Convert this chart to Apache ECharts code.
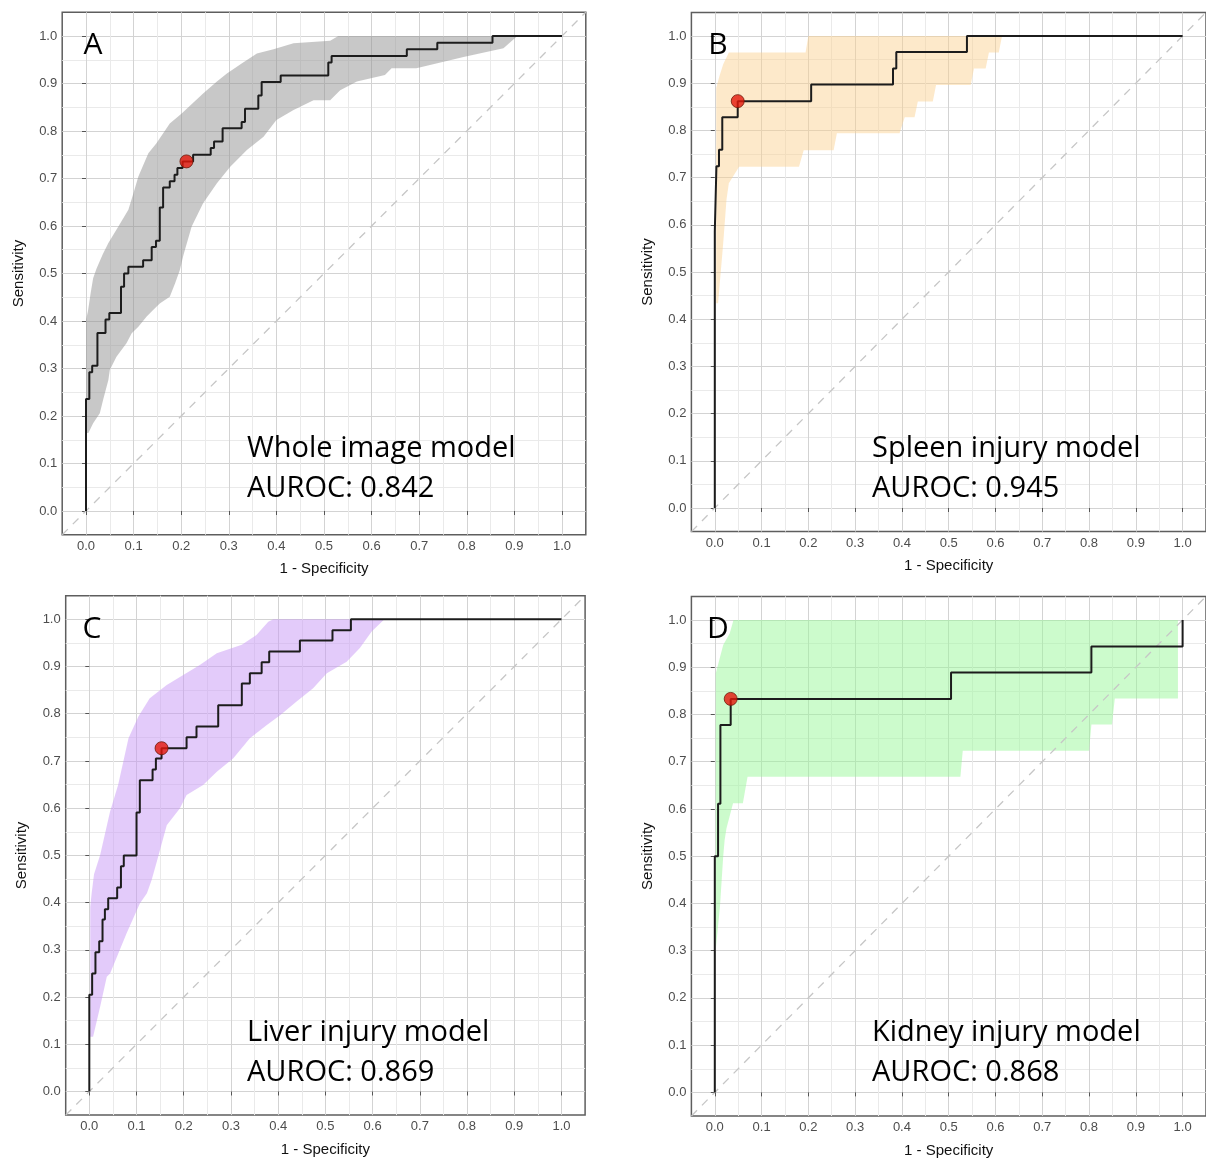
<!DOCTYPE html>
<html><head><meta charset="utf-8">
<script src="https://cdn.jsdelivr.net/npm/echarts@6.0.0/dist/echarts.min.js"></script>
<style>html,body{margin:0;padding:0;background:#fff}#c{width:1206px;height:1159px}</style>
</head><body><div id="c"></div>
<script>
// ---------- data ----------
const tickValues = [0, 0.1, 0.2, 0.3, 0.4, 0.5, 0.6, 0.7, 0.8, 0.9, 1.0];
const panelLetters = ['A', 'B', 'C', 'D'];
const modelNames = ['Whole image model', 'Spleen injury model', 'Liver injury model', 'Kidney injury model'];
const aurocValues = ['0.842', '0.945', '0.869', '0.868'];
const diagonal = [[-0.05, -0.05], [1.05, 1.05]];

// ROC staircase vertices [1 - specificity, sensitivity]
const rocA = [[0,0],[0,0.236],[0.007,0.292],[0.013,0.306],[0.024,0.375],[0.041,0.403],[0.049,0.417],[0.0735,0.472],[0.080,0.5],[0.089,0.514],[0.12,0.528],[0.138,0.556],[0.147,0.569],[0.155,0.639],[0.162,0.681],[0.176,0.694],[0.186,0.708],[0.192,0.722],[0.203,0.736],[0.225,0.75],[0.262,0.764],[0.269,0.778],[0.287,0.806],[0.327,0.819],[0.334,0.847],[0.362,0.875],[0.369,0.903],[0.409,0.917],[0.509,0.944],[0.516,0.958],[0.674,0.972],[0.738,0.986],[0.854,1.0],[1.0,1.0]];
const rocB = [[0,0],[0,0.586],[0.0035,0.724],[0.009,0.759],[0.016,0.828],[0.049,0.862],[0.206,0.897],[0.381,0.931],[0.388,0.966],[0.539,1.0],[1.0,1.0]];
const rocC = [[0,0],[0,0.205],[0.006,0.25],[0.013,0.295],[0.021,0.318],[0.028,0.364],[0.033,0.386],[0.04,0.409],[0.059,0.432],[0.067,0.477],[0.073,0.5],[0.1,0.591],[0.107,0.659],[0.134,0.682],[0.141,0.705],[0.153,0.727],[0.206,0.75],[0.227,0.773],[0.273,0.818],[0.323,0.864],[0.34,0.886],[0.365,0.909],[0.381,0.932],[0.446,0.955],[0.515,0.977],[0.554,1.0],[1.0,1.0]];
const rocD = [[0,0],[0,0.5],[0.007,0.611],[0.012,0.778],[0.034,0.833],[0.505,0.889],[0.805,0.944],[1.0,1.0]];

// optimal thresholds
const bestA = [0.211, 0.736];
const bestB = [0.049, 0.862];
const bestC = [0.153, 0.727];
const bestD = [0.034, 0.833];

// confidence band edges (upper/left edge and lower/right edge, from bottom to top)
const bandUpperA = [[0,0.164],[0,0.402],[0.004,0.42],[0.01,0.46],[0.015,0.49],[0.022,0.51],[0.035,0.54],[0.047,0.564],[0.068,0.599],[0.089,0.634],[0.1,0.67],[0.11,0.704],[0.131,0.753],[0.148,0.774],[0.176,0.816],[0.201,0.837],[0.246,0.879],[0.275,0.904],[0.296,0.921],[0.327,0.942],[0.359,0.963],[0.394,0.972],[0.436,0.985],[0.513,0.99],[0.53,1.0],[1.0,1.0]];
const bandLowerA = [[0,0.164],[0.005,0.164],[0.015,0.185],[0.029,0.206],[0.036,0.234],[0.047,0.276],[0.05,0.297],[0.064,0.325],[0.085,0.353],[0.096,0.374],[0.11,0.388],[0.127,0.409],[0.141,0.423],[0.155,0.437],[0.176,0.451],[0.187,0.479],[0.197,0.507],[0.205,0.54],[0.222,0.599],[0.246,0.648],[0.275,0.69],[0.303,0.725],[0.338,0.76],[0.373,0.788],[0.4,0.823],[0.436,0.844],[0.478,0.865],[0.513,0.865],[0.534,0.886],[0.569,0.904],[0.628,0.918],[0.642,0.932],[0.694,0.932],[0.793,0.956],[0.877,0.974],[0.905,0.999],[0.91,1.0],[1.0,1.0]];
const bandUpperB = [[0.003,0.434],[0.003,0.89],[0.01,0.915],[0.018,0.94],[0.03,0.965],[0.194,0.965],[0.2,1.0],[1.0,1.0]];
const bandLowerB = [[0.003,0.434],[0.007,0.434],[0.018,0.561],[0.025,0.653],[0.03,0.688],[0.052,0.723],[0.18,0.723],[0.19,0.758],[0.254,0.758],[0.261,0.794],[0.395,0.794],[0.406,0.828],[0.427,0.828],[0.434,0.861],[0.466,0.861],[0.473,0.896],[0.547,0.896],[0.554,0.931],[0.579,0.931],[0.586,0.965],[0.607,0.965],[0.614,1.0],[1.0,1.0]];
const bandUpperC = [[0.002,0.116],[0.002,0.39],[0.005,0.42],[0.01,0.46],[0.023,0.501],[0.044,0.593],[0.061,0.649],[0.083,0.748],[0.104,0.794],[0.128,0.833],[0.164,0.861],[0.199,0.882],[0.234,0.903],[0.27,0.928],[0.323,0.946],[0.354,0.967],[0.379,0.995],[0.39,1.0],[1.0,1.0]];
const bandLowerC = [[0.002,0.116],[0.008,0.116],[0.023,0.18],[0.037,0.243],[0.044,0.25],[0.079,0.335],[0.107,0.398],[0.122,0.42],[0.132,0.448],[0.143,0.487],[0.164,0.564],[0.192,0.6],[0.206,0.628],[0.241,0.649],[0.27,0.677],[0.305,0.706],[0.34,0.748],[0.376,0.776],[0.404,0.797],[0.439,0.826],[0.474,0.854],[0.503,0.886],[0.545,0.91],[0.573,0.939],[0.598,0.974],[0.625,1.0],[1.0,1.0]];
const bandUpperD = [[0.002,0.302],[0.002,0.887],[0.018,0.947],[0.032,0.972],[0.04,1.0],[0.99,1.0]];
const bandLowerD = [[0.002,0.302],[0.011,0.393],[0.018,0.5],[0.021,0.534],[0.025,0.559],[0.039,0.612],[0.06,0.612],[0.07,0.668],[0.525,0.668],[0.53,0.723],[0.8,0.723],[0.805,0.779],[0.849,0.779],[0.855,0.834],[0.99,0.834],[0.99,1.0]];

// ---------- layout / style ----------
const rocs = [rocA, rocB, rocC, rocD];
const bests = [bestA, bestB, bestC, bestD];
const bandsUpper = [bandUpperA, bandUpperB, bandUpperC, bandUpperD];
const bandsLower = [bandLowerA, bandLowerB, bandLowerC, bandLowerD];
const bandColors = ['rgba(145,145,145,0.5)', 'rgba(250,210,145,0.48)', 'rgba(200,152,245,0.5)', 'rgba(153,247,153,0.5)'];
const grids = [
  {left: 62.2, top: 12.25, width: 523.6, height: 522.5},
  {left: 691.4, top: 12.4, width: 519.2, height: 519.2},
  {left: 65.7, top: 595.7, width: 519.4, height: 519.4},
  {left: 691.4, top: 596.4, width: 520.3, height: 519.8}
];
const textPos = [[247, 93, 45], [872, 718, 45], [247, 92, 629], [872, 718, 629]];

const MAJ = '#d3d3d3', MIN = '#eaeaea', NONE = 'rgba(0,0,0,0)';
// minor lines on the 0.05 grid: ticks -0.05, 0, 0.05, ..., 1.05 -> only odd multiples of 0.05 inside
const minorColors = [];
for (let i = 0; i <= 22; i++) minorColors.push((i % 2 === 0 && i > 0 && i < 22) ? MIN : NONE);

function fmt(v) {
  const r = Math.round(v * 10);
  if (Math.abs(r - v * 10) < 1e-6 && r >= 0 && r <= 10) return (r / 10).toFixed(1);
  return '';
}
function axisMain(i, name, gap) {
  return {
    type: 'value', gridIndex: i, min: -0.05, max: 1.05, interval: 0.05,
    name: name, nameLocation: 'middle', nameGap: gap,
    nameTextStyle: {fontSize: 15, color: '#111', fontFamily: 'Liberation Sans'},
    axisLine: {show: false},
    axisTick: {show: true, customValues: tickValues, length: 4, lineStyle: {color: '#555', width: 1}},
    axisLabel: {customValues: tickValues, formatter: fmt, color: '#4d4d4d', fontSize: 13, fontFamily: 'Liberation Sans', margin: 5},
    splitLine: {show: true, lineStyle: {color: MAJ, width: 1}},
    minorTick: {show: false}
  };
}
function axisMinor(i, pos) {
  return {
    type: 'value', gridIndex: i, position: pos, min: -0.05, max: 1.05, interval: 0.05,
    axisLine: {show: false}, axisTick: {show: false}, axisLabel: {show: false},
    splitLine: {show: true, lineStyle: {color: minorColors, width: 1}}
  };
}

const series = [];
for (let i = 0; i < 4; i++) {
  const poly = bandsUpper[i].concat(bandsLower[i].slice().reverse());
  const col = bandColors[i];
  series.push({
    type: 'custom', xAxisIndex: i, yAxisIndex: i, silent: true, z: 1,
    data: [[0, 0]],
    renderItem: function (params, api) {
      return {type: 'polygon', shape: {points: poly.map(p => api.coord(p))}, style: {fill: col}};
    }
  });
  series.push({
    type: 'line', xAxisIndex: i, yAxisIndex: i, data: diagonal, symbol: 'none', silent: true, z: 2,
    lineStyle: {color: '#c6c6c6', width: 1.3, type: [8, 7]}
  });
  series.push({
    type: 'line', xAxisIndex: i, yAxisIndex: i, data: rocs[i], step: 'end', symbol: 'none', silent: true, z: 3,
    lineStyle: {color: '#1c1c1c', width: 2}
  });
  series.push({
    type: 'scatter', xAxisIndex: i, yAxisIndex: i, data: [bests[i]], symbol: 'circle', symbolSize: 13, z: 4, silent: true,
    itemStyle: {color: '#e3170a', borderColor: '#6e1a0a', borderWidth: 1}
  });
}

const graphic = [];
for (let i = 0; i < 4; i++) {
  const [tx, lx, ly] = textPos[i];
  graphic.push({type: 'text', z: 10, style: {text: panelLetters[i], x: lx, y: ly, font: '30px "Open Sans"', fill: '#000', align: 'center', verticalAlign: 'middle'}});
  graphic.push({type: 'text', z: 10, style: {text: modelNames[i], x: tx, y: ly + 404, font: '29px "Open Sans"', fill: '#000', align: 'left', verticalAlign: 'middle'}});
  graphic.push({type: 'text', z: 10, style: {text: 'AUROC: ' + aurocValues[i], x: tx, y: ly + 444, font: '29px "Open Sans"', fill: '#000', align: 'left', verticalAlign: 'middle'}});
}

const chart = echarts.init(document.getElementById('c'), null, {renderer: 'canvas'});
chart.setOption({
  animation: false,
  backgroundColor: '#fff',
  grid: grids.map(g => Object.assign({show: true, borderColor: '#5e5e5e', borderWidth: 1.5, backgroundColor: 'rgba(0,0,0,0)', containLabel: false}, g)),
  xAxis: [0, 1, 2, 3].map(i => axisMain(i, '1 - Specificity', 27)).concat([0, 1, 2, 3].map(i => axisMinor(i, 'top'))),
  yAxis: [0, 1, 2, 3].map(i => axisMain(i, 'Sensitivity', 36)).concat([0, 1, 2, 3].map(i => axisMinor(i, 'right'))),
  series: series,
  graphic: graphic
});
</script>
</body></html>
